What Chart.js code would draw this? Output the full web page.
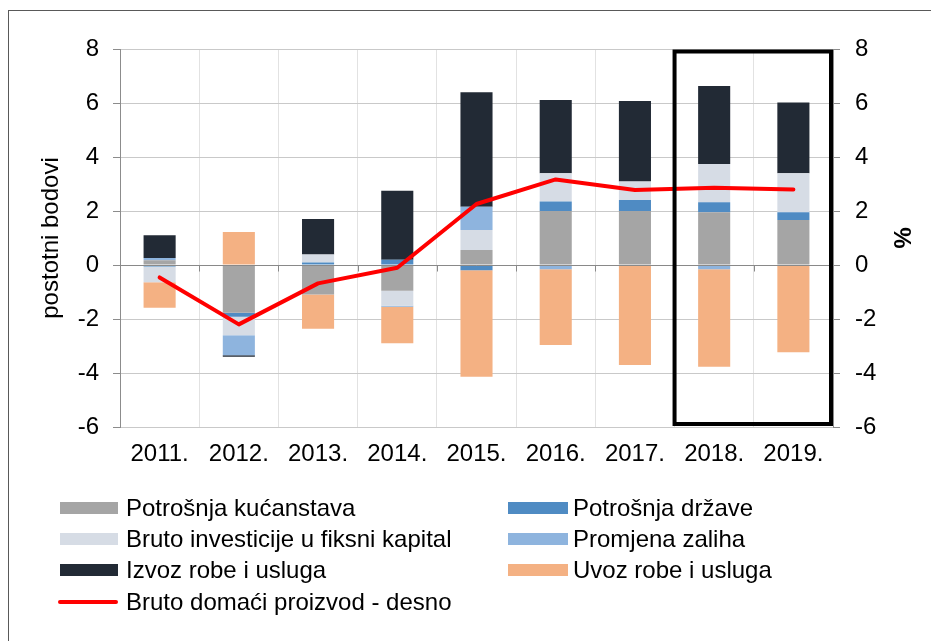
<!DOCTYPE html>
<html>
<head>
<meta charset="utf-8">
<script src="https://cdn.jsdelivr.net/npm/chart.js@4.4.1/dist/chart.umd.min.js"></script>
<style>
  html, body { margin: 0; padding: 0; background: #fff; overflow: hidden; }
  #wrap { position: relative; width: 931px; height: 641px; }
  #frame { position: absolute; left: 8px; top: 10px; width: 940px; height: 640px;
           border-left: 1px solid #595959; border-top: 1px solid #595959; pointer-events: none; }
  canvas { position: absolute; left: 0; top: 0; }
  #legend { position: absolute; left: 0; top: 0; width: 931px; height: 641px; pointer-events: none;
            font-family: "Liberation Sans", Arial, sans-serif; font-size: 24px; color: #000; }
  .li { position: absolute; height: 28px; line-height: 28px; white-space: nowrap; }
  .sw { position: absolute; top: 8px; height: 12px; }
  .ln { position: absolute; top: 12px; height: 4px; border-radius: 2px; }
</style>
</head>
<body>
<div id="wrap">
  <canvas id="c" width="931" height="641"></canvas>
  <div id="frame"></div>
  <div id="legend"></div>
</div>
<script>
// ---- data ----
const years = ['2011.', '2012.', '2013.', '2014.', '2015.', '2016.', '2017.', '2018.', '2019.'];
const potrosnjaKucanstava = [0.18, -1.77, -1.09, -0.95, 0.56, 2.00, 2.00, 1.95, 1.67];
const potrosnjaDrzave     = [-0.06, -0.15, 0.09, 0.19, -0.19, 0.35, 0.41, 0.37, 0.28];
const brutoInvesticije    = [-0.58, -0.68, 0.30, -0.56, 0.74, 1.05, 0.68, 1.42, 1.45];
const promjenaZaliha      = [0.08, -0.74, 0.00, -0.04, 0.86, -0.16, 0.00, -0.16, 0.00];
const izvozRobe           = [0.84, -0.06, 1.31, 2.56, 4.24, 2.71, 2.98, 2.89, 2.62];
const uvozRobe            = [-0.94, 1.22, -1.27, -1.35, -3.95, -2.80, -3.70, -3.61, -3.23];
const bdp                 = [-0.46, -2.20, -0.68, -0.10, 2.26, 3.17, 2.78, 2.86, 2.80];
const yTicks = [-6, -4, -2, 0, 2, 4, 6, 8];

const seriesLabels = ['Potrošnja kućanstava', 'Potrošnja države', 'Bruto investicije u fiksni kapital',
  'Promjena zaliha', 'Izvoz robe i usluga', 'Uvoz robe i usluga', 'Bruto domaći proizvod - desno'];
const yTitle = 'postotni bodovi';
const y2Title = '%';

const colors = ['#A5A5A5', '#4F8BC3', '#D6DCE5', '#8EB4DE', '#222A35', '#F4B183'];
const FONT = '"Liberation Sans", Arial, sans-serif';
const FS = 24;

const barSeries = [potrosnjaKucanstava, potrosnjaDrzave, brutoInvesticije, promjenaZaliha, izvozRobe, uvozRobe];

const datasets = [{
  type: 'line', label: seriesLabels[6], data: bdp, yAxisID: 'y2', order: 0,
  borderColor: '#FF0000', backgroundColor: '#FF0000', borderWidth: 4,
  pointRadius: 0, tension: 0, borderJoinStyle: 'round', borderCapStyle: 'round', fill: false
}];
barSeries.forEach((d, i) => datasets.push({
  type: 'bar', label: seriesLabels[i], data: d, yAxisID: 'y', stack: 's', order: 1,
  backgroundColor: colors[i], borderWidth: 0, categoryPercentage: 0.405, barPercentage: 1
}));

const axisPlugin = {
  id: 'axisExtras',
  beforeDatasetDraw(chart, args) {
    if (args.index !== 0) return;
    const {ctx, chartArea} = chart;
    const x = chart.scales.x, y = chart.scales.y;
    const y0 = Math.round(y.getPixelForValue(0)) + 0.5;
    ctx.save();
    ctx.strokeStyle = '#898989';
    ctx.lineWidth = 1;
    ctx.beginPath();
    ctx.moveTo(chartArea.left, y0); ctx.lineTo(chartArea.right, y0);
    for (let i = 0; i <= years.length; i++) {
      const px = Math.round(x.getPixelForValue(i - 0.5)) + 0.5;
      ctx.moveTo(px, y0); ctx.lineTo(px, y0 + 6);
    }
    ctx.stroke();
    ctx.restore();
  },
  afterDatasetsDraw(chart) {
    const {ctx, chartArea} = chart;
    const x = chart.scales.x;
    const left = x.getPixelForValue(6.5);
    ctx.save();
    ctx.strokeStyle = '#000';
    ctx.lineWidth = 4;
    ctx.lineJoin = 'miter';
    ctx.strokeRect(left, chartArea.top + 2.5, chartArea.right - 2 - left, chartArea.bottom - 3 - chartArea.top - 2.5);
    ctx.restore();
  }
};

const chart = new Chart(document.getElementById('c'), {
  data: { labels: years, datasets },
  plugins: [axisPlugin],
  options: {
    responsive: false, animation: false,
    layout: { padding: { left: 0, right: 0, top: 49, bottom: 0 } },
    plugins: { legend: { display: false }, tooltip: { enabled: false } },
    scales: {
      x: {
        stacked: true, offset: true,
        grid: { offset: true, color: '#E2E2E2', drawTicks: false },
        border: { display: false },
        ticks: { color: '#000', font: { family: FONT, size: FS }, padding: 13, maxRotation: 0 },
        afterFit(s) { s.height = 214; }
      },
      y: {
        position: 'left', stacked: true, min: -6, max: 8,
        afterBuildTicks(s) { s.ticks = yTicks.map(v => ({ value: v })); },
        grid: { color: '#C9C9C9', tickLength: 7, tickColor: '#8C8C8C' },
        border: { color: '#8C8C8C' },
        ticks: { color: '#000', font: { family: FONT, size: FS }, padding: 14 },
        title: { display: true, text: yTitle, color: '#000', font: { family: FONT, size: FS }, padding: { top: 37, bottom: 0 } },
        afterFit(s) { s.width = 120; }
      },
      y2: {
        position: 'right', min: -6, max: 8,
        afterBuildTicks(s) { s.ticks = yTicks.map(v => ({ value: v })); },
        grid: { drawOnChartArea: false, tickLength: 7, tickColor: '#8C8C8C' },
        border: { color: '#8C8C8C' },
        ticks: { color: '#000', font: { family: FONT, size: FS }, padding: 15 },
        title: { display: true, text: y2Title, color: '#000', font: { family: FONT, size: FS, weight: 'bold' }, padding: { top: 16, bottom: 0 } },
        afterFit(s) { s.width = 98; }
      }
    }
  }
});

// ---- HTML legend built from the chart's datasets ----
const legend = document.getElementById('legend');
const rowsY = [508, 539, 570, 602];
const cols = [{ sw: 60, sw2: 118, tx: 126 }, { sw: 508, sw2: 568, tx: 573 }];
const legendOrder = [1, 2, 3, 4, 5, 6, 0]; // dataset indices
legendOrder.forEach((di, k) => {
  const ds = chart.data.datasets[di];
  const col = cols[k < 6 ? k % 2 : 0];
  const row = k < 6 ? Math.floor(k / 2) : 3;
  const item = document.createElement('div');
  item.className = 'li';
  item.style.left = col.sw + 'px';
  item.style.top = (rowsY[row] - 14) + 'px';
  const sw = document.createElement('div');
  if (ds.type === 'line') {
    sw.className = 'ln';
    sw.style.left = '-2px';
    sw.style.width = (col.sw2 - col.sw + 2) + 'px';
    sw.style.background = ds.borderColor;
  } else {
    sw.className = 'sw';
    sw.style.left = '0px';
    sw.style.width = (col.sw2 - col.sw) + 'px';
    sw.style.background = ds.backgroundColor;
  }
  item.appendChild(sw);
  const t = document.createElement('span');
  t.textContent = ds.label;
  t.style.position = 'absolute';
  t.style.left = (col.tx - col.sw) + 'px';
  item.appendChild(t);
  legend.appendChild(item);
});
</script>
</body>
</html>
